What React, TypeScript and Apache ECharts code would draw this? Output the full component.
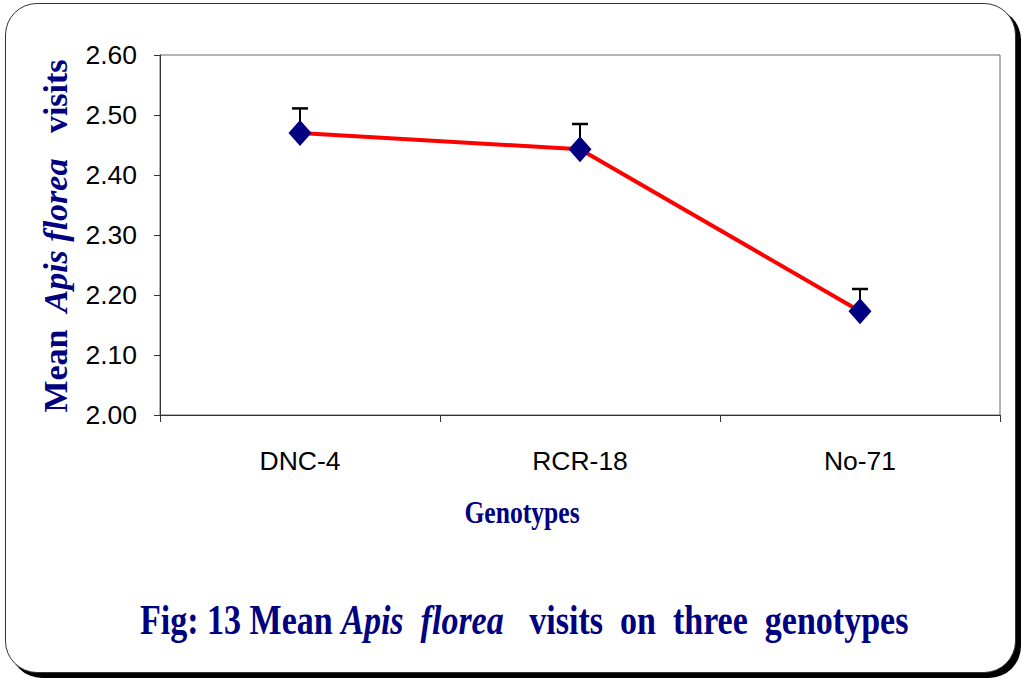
import React, { useEffect, useRef } from "react";
import * as echarts from "echarts";

const categories = ["DNC-4", "RCR-18", "No-71"];
const meanVisits = [2.47, 2.443, 2.173];
const errorTop = [2.511, 2.485, 2.21];
const yMin = 2.0;
const yMax = 2.6;
const yStep = 0.1;

const NAVY = "#000080";
const SERIF = "'Liberation Serif', 'Times New Roman', serif";
const SANS = "'Liberation Sans', Arial, sans-serif";

export default function App() {
  const ref = useRef<HTMLDivElement>(null);

  useEffect(() => {
    if (!ref.current) return;
    const chart = echarts.init(ref.current, undefined, { renderer: "svg" });
    const errData = categories.map((_, i) => [i, meanVisits[i], errorTop[i]]);
    chart.setOption({
      animation: false,
      grid: {
        left: 160,
        right: 22,
        top: 55,
        bottom: 265,
        show: true,
        borderColor: "#666",
        borderWidth: 1,
      },
      xAxis: {
        type: "category",
        data: categories,
        boundaryGap: true,
        axisLine: { lineStyle: { color: "#333", width: 1 } },
        axisTick: { show: true, length: 7, alignWithLabel: false, lineStyle: { color: "#333" } },
        axisLabel: { color: "#000", fontFamily: SANS, fontSize: 26.5, margin: 32 },
        splitLine: { show: false },
      },
      yAxis: {
        type: "value",
        min: yMin,
        max: yMax,
        interval: yStep,
        axisLine: { show: true, lineStyle: { color: "#333", width: 1 } },
        axisTick: { show: true, length: 6, lineStyle: { color: "#333" } },
        axisLabel: {
          color: "#000",
          fontFamily: SANS,
          fontSize: 26.5,
          margin: 23,
          formatter: (v: number) => v.toFixed(2),
        },
        splitLine: { show: false },
      },
      graphic: [
        {
          type: "text",
          x: 140,
          y: 620,
          scaleX: 0.81,
          style: {
            text: "{b|Fig: 13 Mean }{i|Apis  florea}{b|   visits  on  three  genotypes}",
            fill: NAVY,
            textAlign: "left",
            textVerticalAlign: "middle",
            rich: {
              b: { fontFamily: SERIF, fontWeight: "bold", fontSize: 42, fill: NAVY },
              i: { fontFamily: SERIF, fontWeight: "bold", fontStyle: "italic", fontSize: 42, fill: NAVY },
            },
          },
        },
        {
          type: "text",
          x: 522,
          y: 512,
          scaleX: 0.8,
          style: {
            text: "Genotypes",
            fill: NAVY,
            font: `bold 32px ${SERIF}`,
            textAlign: "center",
            textVerticalAlign: "middle",
          },
        },
        {
          type: "text",
          x: 55,
          y: 236,
          rotation: Math.PI / 2,
          style: {
            text: "{b|Mean  }{i|Apis florea}{b|   visits}",
            fill: NAVY,
            textAlign: "center",
            textVerticalAlign: "middle",
            rich: {
              b: { fontFamily: SERIF, fontWeight: "bold", fontSize: 34, fill: NAVY },
              i: { fontFamily: SERIF, fontWeight: "bold", fontStyle: "italic", fontSize: 34, fill: NAVY },
            },
          },
        },
      ],
      series: [
        {
          type: "custom",
          name: "error",
          z: 1,
          data: errData,
          encode: { x: 0, y: [1, 2] },
          renderItem: (params: any, api: any) => {
            const idx = api.value(0);
            const p0 = api.coord([idx, api.value(1)]);
            const p1 = api.coord([idx, api.value(2)]);
            return {
              type: "group",
              children: [
                {
                  type: "line",
                  shape: { x1: p0[0], y1: p0[1], x2: p1[0], y2: p1[1] },
                  style: { stroke: "#000", lineWidth: 2 },
                },
                {
                  type: "line",
                  shape: { x1: p1[0] - 8, y1: p1[1], x2: p1[0] + 8, y2: p1[1] },
                  style: { stroke: "#000", lineWidth: 2.5 },
                },
              ],
            };
          },
        },
        {
          type: "line",
          name: "Mean visits",
          z: 3,
          data: meanVisits,
          lineStyle: { color: "#ff0000", width: 4 },
          itemStyle: { color: NAVY },
          symbol: "diamond",
          symbolSize: [23, 26],
          showSymbol: true,
        },
      ],
    });
    return () => chart.dispose();
  }, []);

  return (
    <div style={{ position: "absolute", left: 0, top: 0, width: 1022, height: 680, background: "#fff" }}>
      <div
        style={{
          position: "absolute",
          left: 5,
          top: 3,
          width: 1011,
          height: 670,
          boxSizing: "border-box",
          border: "1.5px solid #333",
          borderRadius: 32,
          boxShadow: "5px 5px 0 0 #000",
          background: "#fff",
        }}
      />
      <div ref={ref} style={{ position: "absolute", left: 0, top: 0, width: 1022, height: 680 }} />
    </div>
  );
}
